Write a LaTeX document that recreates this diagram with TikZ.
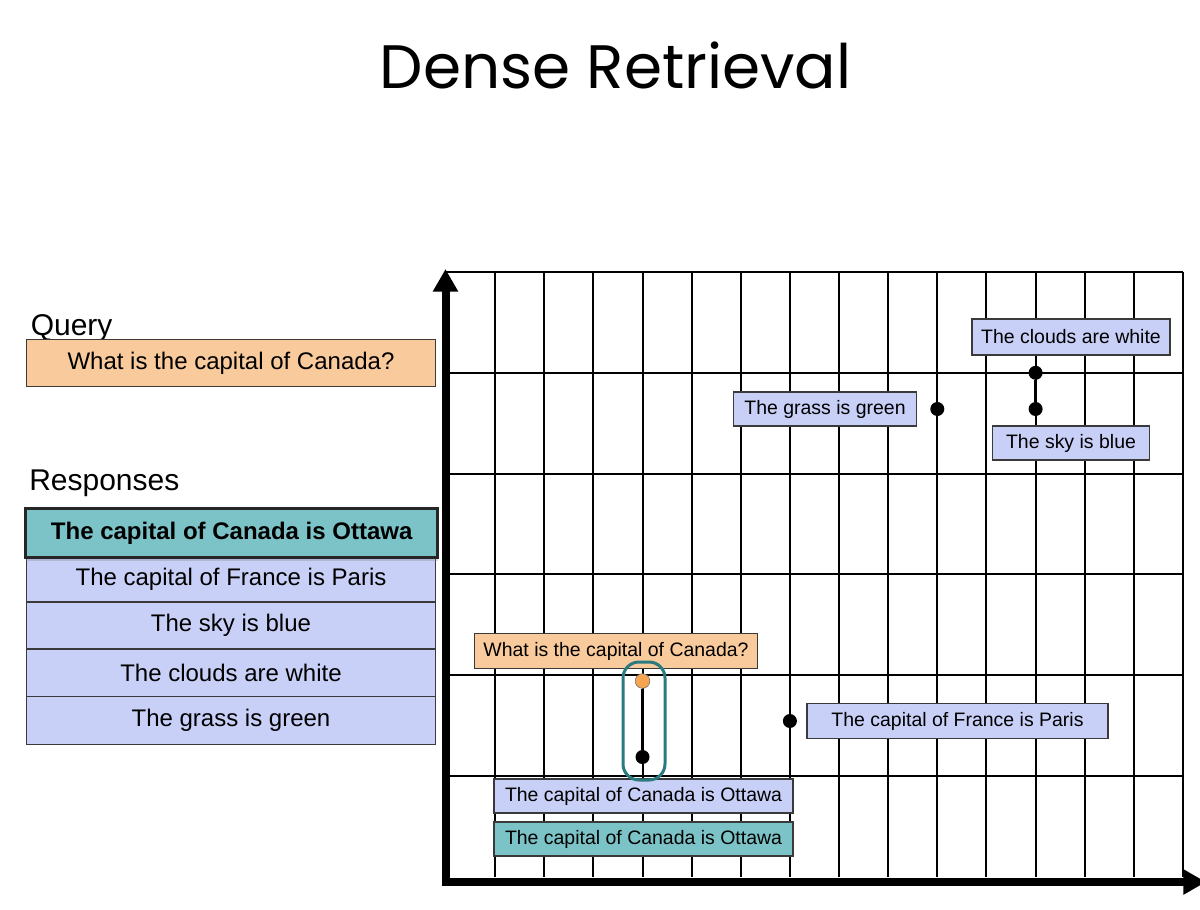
\documentclass[tikz,border=0pt]{standalone}
\usepackage{fontspec}
\setmainfont{Liberation Sans}
\newfontfamily\titlefont{Poppins}
\usetikzlibrary{arrows.meta,shadows}
\definecolor{qorange}{HTML}{F9CB9C}
\definecolor{rblue}{HTML}{C9D0F7}
\definecolor{rteal}{HTML}{7CC3C7}
\definecolor{darkteal}{HTML}{2B7A80}
\definecolor{dotorange}{HTML}{F5A552}
\definecolor{edge}{HTML}{3A3A3A}
\begin{document}
\begin{tikzpicture}[x=0.75pt,y=-0.75pt,
  panel/.style={draw=edge, line width=1.1pt, inner sep=0pt, minimum width=307pt, font=\fontsize{18pt}{21pt}\selectfont, text=black},
  gl/.style={draw=edge, line width=1.1pt, inner sep=0pt, font=\fontsize{14.6pt}{17pt}\selectfont, fill=rblue},
  dot/.style={circle, fill=black, inner sep=0pt, minimum size=10.5pt},
  gridline/.style={line width=1.5pt, draw=black},
  axis/.style={line width=6pt, -{Triangle[length=17pt,width=18pt]}},
  link/.style={line width=2.2pt},
  heading/.style={font=\fontsize{22.5pt}{26pt}\selectfont, inner sep=0pt, anchor=base west}
]
\useasboundingbox (0,0) rectangle (1200,910);
\clip (0,0) rectangle (1200,910);

% title
\node[font=\titlefont\fontsize{46pt}{50pt}\selectfont, anchor=base, inner sep=0pt] (title) at (615.5,88) {Dense Retrieval};

% left panel
\node[heading] (qlabel) at (30.5,335) {Query};
\node[panel, fill=qorange, minimum height=35.6pt] (qbox) at (231,363) {What is the capital of Canada?};
\node[heading] (rlabel) at (29,490) {Responses};
\node[panel, fill=rblue, minimum height=33.5pt] (r2) at (231,579.5) {The capital of France is Paris};
\node[panel, fill=rblue, minimum height=35.5pt] (r3) at (231,625.5) {The sky is blue};
\node[panel, fill=rblue, minimum height=35.8pt] (r4) at (231,673) {The clouds are white};
\node[panel, fill=rblue, minimum height=35.8pt] (r5) at (231,720.5) {The grass is green};
\node[panel, fill=rteal, draw=black!85, line width=2.25pt, minimum width=309pt, minimum height=36.75pt,
      font=\fontsize{18pt}{21pt}\selectfont\bfseries,
      drop shadow={shadow xshift=0.5pt, shadow yshift=-2.5pt, opacity=0.3}] (r1) at (231.7,532.8) {The capital of Canada is Ottawa};

% grid
\foreach \i in {1,...,14}
  \draw[gridline] ({446+\i*49.133},272) -- ({446+\i*49.133},877);
\foreach \j in {0,...,5}
  \draw[gridline] (446,{272+\j*100.83}) -- (1183,{272+\j*100.83});
\draw[gridline] (1183,272) -- (1183,877);

% axes
\coordinate (origin) at (445.5,882);
\coordinate (ytip) at (445.5,269);
\coordinate (xstart) at (441.5,882);
\coordinate (xtip) at (1206,882);
\draw[axis] (445.5,886) -- (ytip);
\draw[axis] (xstart) -- (xtip);

% grid labels
\node[gl, minimum width=148.5pt, minimum height=27pt] (gclouds) at (1071,337) {The clouds are white};
\node[gl, minimum width=117.8pt, minimum height=25.7pt] (gsky) at (1071,443) {The sky is blue};
\node[gl, minimum width=137pt, minimum height=25.5pt] (ggrass) at (825,409) {The grass is green};
\node[gl, fill=qorange, minimum width=212.5pt, minimum height=26.25pt] (gquery) at (616,651) {What is the capital of Canada?};
\node[gl, minimum width=225.5pt, minimum height=26.25pt] (gfrance) at (957.5,721) {The capital of France is Paris};
\node[gl, minimum width=224pt, minimum height=25.5pt] (gottawa) at (643.5,796) {The capital of Canada is Ottawa};
\node[gl, fill=rteal, minimum width=224pt, minimum height=25.5pt] (gottawat) at (643.5,839) {The capital of Canada is Ottawa};

% selection outline
\node[draw=darkteal, line width=2.25pt, rounded corners=12pt, minimum width=31.5pt, minimum height=88.5pt, inner sep=0pt] (sel) at (644,721) {};

% dots
\node[dot] (dclouds) at (1035.6,372.8) {};
\node[dot] (dsky) at (1035.6,409) {};
\node[dot] (dgrass) at (937.3,409) {};
\node[dot, fill=dotorange, draw=black!60, line width=0.4pt, minimum size=11pt] (dquery) at (642.5,681) {};
\node[dot] (dcanada) at (642.5,757) {};
\node[dot] (dfrance) at (789.9,721) {};

% connectors
\draw[link] (dclouds) -- (dsky);
\draw[link] (dquery) -- (dcanada);
\end{tikzpicture}
\end{document}
